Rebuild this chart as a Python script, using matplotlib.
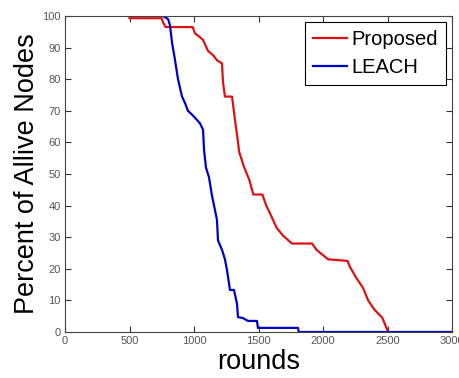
import matplotlib
matplotlib.use("Agg")
import matplotlib.pyplot as plt

# Proposed protocol (red) – rounds vs percent of alive nodes
proposed_rounds = [500, 750, 760, 780, 990, 1008, 1040, 1070, 1108, 1150, 1178, 1217,
                   1225, 1240, 1295, 1318, 1335, 1350, 1390, 1430, 1460, 1530, 1560,
                   1590, 1640, 1690, 1760, 1915, 1950, 1980, 2040, 2190, 2210, 2260,
                   2310, 2350, 2400, 2460, 2505]
proposed_alive = [99.3, 99.3, 98, 96.5, 96.5, 94.5, 93.5, 92.4, 89, 87.5, 86, 85,
                  79, 74.5, 74.5, 67, 62, 57, 52, 48, 43.5, 43.5, 40,
                  37.5, 33, 30.5, 28, 28, 26, 25, 23, 22.5, 20.5, 17,
                  14, 10, 7, 4.5, 0]

# LEACH (blue)
leach_rounds = [760, 800, 814, 830, 853, 876, 907, 930, 953, 992, 1047, 1070, 1078,
                1093, 1116, 1140, 1163, 1178, 1186, 1217, 1240, 1256, 1279, 1310,
                1333, 1341, 1380, 1418, 1488, 1496, 1806, 1812, 3000]
leach_alive = [100, 99, 97, 91.5, 86, 80, 74.5, 72.5, 70, 68.5, 66, 64, 57.5,
               52, 49, 43, 38.5, 35.5, 29, 26, 23, 19.5, 13.3, 13.3,
               9, 4.7, 4.4, 3.5, 3.5, 1.3, 1.3, 0, 0]

x_ticks = [0, 500, 1000, 1500, 2000, 2500, 3000]
y_ticks = [0, 10, 20, 30, 40, 50, 60, 70, 80, 90, 100]

plt.rcParams['font.family'] = ['Liberation Sans', 'DejaVu Sans']

fig = plt.figure(figsize=(4.59, 3.78), dpi=100)
ax = fig.add_axes([65/459, 46/378, 387/459, 316/378])

ax.plot(proposed_rounds, proposed_alive, color='#dd1111', lw=1.6, label='Proposed')
ax.plot(leach_rounds, leach_alive, color='#0000cc', lw=1.6, label='LEACH')

ax.set_xlim(0, 3000)
ax.set_ylim(0, 100)
ax.set_xticks(x_ticks)
ax.set_yticks(y_ticks)
ax.tick_params(direction='in', length=4, width=0.8, top=True, right=True,
               labelsize=8, labelcolor='#555555', color='#333333', pad=3)
for s in ax.spines.values():
    s.set_color('#444444')
    s.set_linewidth(0.8)

ax.set_xlabel('rounds', fontsize=19.5, labelpad=2)
ax.set_ylabel('Percent of Allive Nodes', fontsize=19.5, labelpad=2)

leg = ax.legend(loc='upper right', fontsize=14.5, handlelength=1.7, handletextpad=0.2,
                borderpad=0.4, labelspacing=0.45, fancybox=False, framealpha=1,
                edgecolor='black', borderaxespad=0.3)
leg.get_frame().set_linewidth(0.8)

fig.savefig('out.png', dpi=100)
